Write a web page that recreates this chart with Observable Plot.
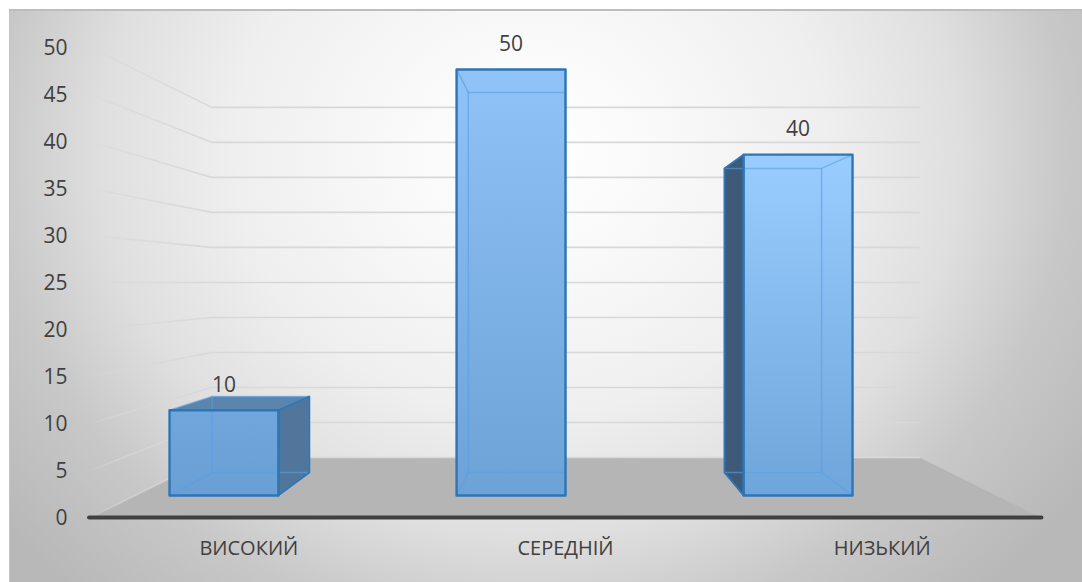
<!DOCTYPE html>
<html>
<head>
<meta charset="utf-8">
<script src="https://cdn.jsdelivr.net/npm/d3@7"></script>
<script src="https://cdn.jsdelivr.net/npm/@observablehq/plot@0.6"></script>
<style>
  html, body { margin: 0; padding: 0; background: #fff; }
  #panel {
    position: absolute; left: 9px; top: 9px; width: 1073px; height: 573px;
    box-sizing: border-box; border-top: 2px solid #bdbdbd; border-left: 1px solid #c4c4c4;
    background: radial-gradient(ellipse 536px 480px at 520px 140px, #ffffff 0%, #f9f9f9 25%, #efefef 55%, #dfdfdf 80%, #c8c8c8 100%, #b8b8b8 125%);
  }
  #chart { position: absolute; left: 0; top: 0; }
</style>
</head>
<body>
<div id="panel"></div>
<div id="chart"></div>
<script>
const categories = ["ВИСОКИЙ", "СЕРЕДНІЙ", "НИЗЬКИЙ"];
const values = [10, 50, 40];
const yTicks = [0, 5, 10, 15, 20, 25, 30, 35, 40, 45, 50];
const slotCenters = [-2 / 3, 0, 2 / 3];

// Box placement in the chart's unit floor: x runs -1..1, depth runs 0 (front) to 1 (back wall).
const barShift = -0.1265;
const barHalfWidth = 0.1265;
const frontDepth = 0.367;
const backDepth = 0.75;
const shrink = 0.255;
const floorRise = 6.383;

// Perspective: deeper points shrink toward the centre and rise up the value axis.
const pt = (X, v, d) => ({x: X * (1 - shrink * d), y: d * floorRise + v * (1 - shrink * d)});
const poly = (id, corners) => corners.map(([X, v, d]) => ({id, ...pt(X, v, d)}));

const bars = categories.map((category, i) => {
  const l = slotCenters[i] + barShift - barHalfWidth;
  const r = slotCenters[i] + barShift + barHalfWidth;
  return {category, value: values[i], l, r, f: frontDepth, b: backDepth};
});

const floor = poly("floor", [[-1, 0, 0], [1, 0, 0], [1, 0, 1], [-1, 0, 1]]);
const grid = yTicks.flatMap((v) => poly(v, [[-1, v, 0], [-1, v, 1], [1, v, 1]]));

const tops = bars.flatMap((b, i) => poly(i, [[b.l, b.value, b.f], [b.r, b.value, b.f], [b.r, b.value, b.b], [b.l, b.value, b.b]]));
// Only the side that turns away from the centre shows beyond the front face.
const leftSides = bars.filter((b) => b.l > 0).flatMap((b, i) => poly(i, [[b.l, 0, b.f], [b.l, b.value, b.f], [b.l, b.value, b.b], [b.l, 0, b.b]]));
const rightSides = bars.filter((b) => b.r + barHalfWidth < 0).flatMap((b, i) => poly(i, [[b.r, 0, b.f], [b.r, b.value, b.f], [b.r, b.value, b.b], [b.r, 0, b.b]]));
const frontOf = (b, i) => poly(i, [[b.l, 0, b.f], [b.r, 0, b.f], [b.r, b.value, b.f], [b.l, b.value, b.f]]);
const fronts = bars.flatMap(frontOf);

// Inner wireframe: back rectangle plus the four edges running back from the front corners.
const backEdges = bars.flatMap((b, i) => [
  ...poly(`r${i}`, [[b.l, 0, b.b], [b.r, 0, b.b], [b.r, b.value, b.b], [b.l, b.value, b.b], [b.l, 0, b.b]]),
  ...poly(`a${i}`, [[b.l, 0, b.f], [b.l, 0, b.b]]),
  ...poly(`b${i}`, [[b.r, 0, b.f], [b.r, 0, b.b]]),
  ...poly(`c${i}`, [[b.l, b.value, b.f], [b.l, b.value, b.b]]),
  ...poly(`d${i}`, [[b.r, b.value, b.f], [b.r, b.value, b.b]])
]);

const font = "'Open Sans', sans-serif";
const ink = "#404040";

const defs = () => {
  const svg = d3.create("svg:defs");
  const grad = (id, x1, y1, x2, y2, stops) => {
    const g = svg.append("linearGradient").attr("id", id)
      .attr("gradientUnits", "userSpaceOnUse")
      .attr("x1", x1).attr("y1", y1).attr("x2", x2).attr("y2", y2);
    stops.forEach(([o, c, a]) => g.append("stop").attr("offset", o).attr("stop-color", c).attr("stop-opacity", a));
  };
  grad("gridFade", 90, 0, 210, 0, [[0, "#d8d8d8", 0.1], [0.2, "#d8d8d8", 0.6], [1, "#d8d8d8", 1]]);
  grad("barFill0", 0, 410, 0, 495, [[0, "#6fa6dc", 1], [1, "#699fd4", 1]]);
  grad("barFill1", 0, 69, 0, 495, [[0, "#90c3f7", 1], [1, "#6ca2d6", 1]]);
  grad("barFill2", 0, 154, 0, 495, [[0, "#9acdff", 1], [1, "#6ea5da", 1]]);
  return svg.node();
};

const chart = Plot.plot({
  width: 1082,
  height: 582,
  marginLeft: 90,
  marginRight: 42,
  marginTop: 47,
  marginBottom: 65,
  style: {background: "transparent", fontFamily: font, overflow: "visible"},
  x: {domain: [-1, 1]},
  y: {domain: [0, 50]},
  marks: [
    defs,
    Plot.line(floor, {x: "x", y: "y", z: "id", fill: "#b5b5b5", stroke: "none", curve: "linear-closed"}),
    Plot.line(grid, {x: "x", y: "y", z: "id", stroke: "url(#gridFade)", strokeWidth: 1.6, curve: "linear"}),
    Plot.line(tops, {x: "x", y: "y", z: "id", fill: "#5a85ad", stroke: "none", curve: "linear-closed"}),
    Plot.line(leftSides, {x: "x", y: "y", z: "id", fill: "#3d5a78", stroke: "none", curve: "linear-closed"}),
    Plot.line(rightSides, {x: "x", y: "y", z: "id", fill: "#50779b", stroke: "none", curve: "linear-closed"}),
    ...bars.map((b, i) => Plot.line(frontOf(b, i), {x: "x", y: "y", fill: `url(#barFill${i})`, stroke: "none", curve: "linear-closed"})),
    Plot.line(backEdges, {x: "x", y: "y", z: "id", stroke: "#5a9fe2", strokeOpacity: 0.6, strokeWidth: 1.5, curve: "linear"}),
    Plot.line(leftSides, {x: "x", y: "y", z: "id", stroke: "#2e75b6", strokeWidth: 1.6, curve: "linear-closed"}),
    Plot.line(rightSides, {x: "x", y: "y", z: "id", stroke: "#2e75b6", strokeWidth: 1.6, curve: "linear-closed"}),
    Plot.line(fronts, {x: "x", y: "y", z: "id", stroke: "#2e75b6", strokeWidth: 2.4, curve: "linear-closed"}),
    Plot.ruleY([0], {x1: -1.002, x2: 1.003, stroke: "#404040", strokeWidth: 4, strokeLinecap: "round"}),
    Plot.axisY({ticks: yTicks, tickSize: 0, tickPadding: 23, fontSize: 21, color: ink, label: null, dy: 1}),
    Plot.axisX({ticks: slotCenters, tickSize: 0, tickPadding: 23, fontSize: 20, color: ink, label: null,
      tickFormat: (d) => categories[slotCenters.indexOf(d)]}),
    Plot.text(bars, {
      x: (b) => pt((b.l + b.r) / 2, b.value, b.f).x,
      y: (b) => pt((b.l + b.r) / 2, b.value, b.f).y,
      text: (b) => String(b.value),
      dy: -25, fontSize: 21, fill: ink
    })
  ]
});
document.getElementById("chart").append(chart);
</script>
</body>
</html>
